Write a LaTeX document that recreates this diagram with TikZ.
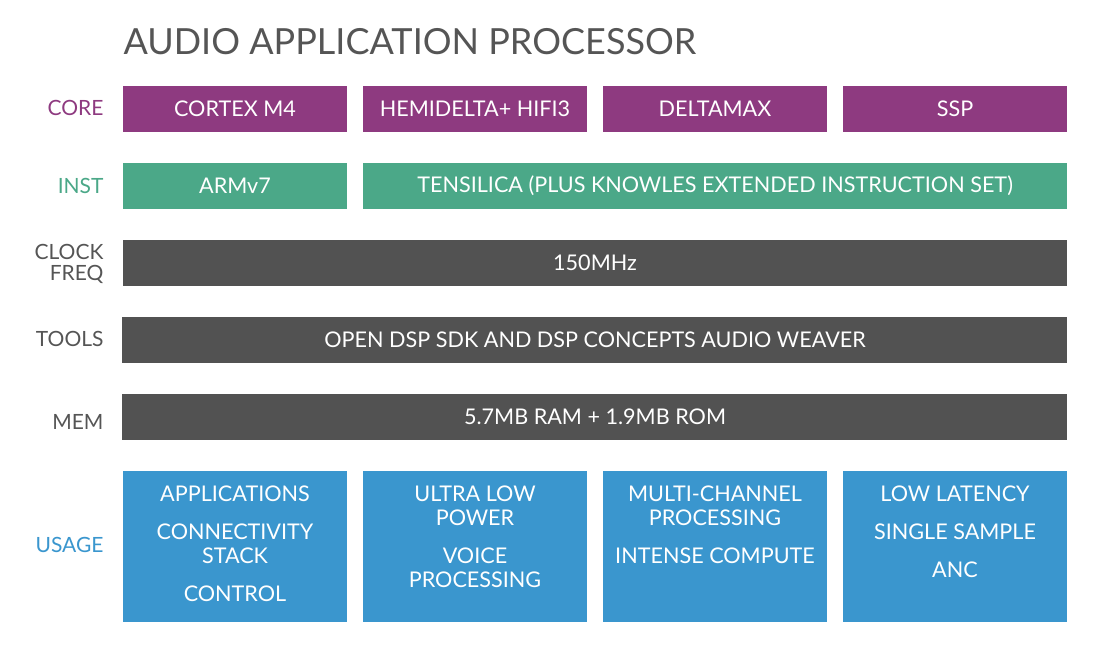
\documentclass[tikz,border=0pt]{standalone}
\usepackage{fontspec}
\setmainfont{Lato}
\definecolor{pur}{HTML}{8E3A80}
\definecolor{grn}{HTML}{4BA888}
\definecolor{dgr}{HTML}{525252}
\definecolor{blu}{HTML}{3A96CE}
\definecolor{lab}{HTML}{555555}
\begin{document}
\begin{tikzpicture}[x=1pt,y=-1pt,
  txt/.style={font=\fontsize{21.6}{24}\selectfont,text=white,align=center},
  lbl/.style={font=\fontsize{21}{20}\selectfont,anchor=east,align=right}]
\useasboundingbox (0,0) rectangle (1098,650);
\node[anchor=west,font=\fontsize{36}{36}\selectfont,text=lab] (title) at (120,42) {AUDIO APPLICATION PROCESSOR};
% labels
\node[lbl,text=pur] (lcore) at (107,108) {CORE};
\node[lbl,text=grn] (linst) at (107,186) {INST};
\node[lbl,text=lab,font=\fontsize{21}{21}\selectfont] (lclk) at (107,264) {CLOCK\\FREQ};
\node[lbl,text=lab] (ltools) at (107,339) {TOOLS};
\node[lbl,text=lab] (lmem) at (107,422) {MEM};
\node[lbl,text=blu] (luse) at (107,545) {USAGE};
% core
\foreach \x/\t/\n in {123/CORTEX M4/c1,363/HEMIDELTA+ HIFI3/c2,603/DELTAMAX/c3,843/SSP/c4}{
  \fill[pur] (\x,86) rectangle ++(224,46);
  \node[txt] (\n) at (\x+112,109) {\t};
}
\fill[grn] (123,163) rectangle (347,209);
\node[txt] (i1) at (235,186) {ARMv7};
\fill[grn] (363,163) rectangle (1067,209);
\node[txt] (i2) at (715,186) {TENSILICA (PLUS KNOWLES EXTENDED INSTRUCTION SET)};
\fill[dgr] (123,240) rectangle (1067,286);
\node[txt] (clk) at (595,263) {150MHz};
\fill[dgr] (122,317) rectangle (1067,363);
\node[txt] (tools) at (595,340) {OPEN DSP SDK AND DSP CONCEPTS AUDIO WEAVER};
\fill[dgr] (122,394) rectangle (1067,440);
\node[txt] (mem) at (595,417) {5.7MB RAM + 1.9MB ROM};
% usage
\foreach \x in {123,363,603,843}{\fill[blu] (\x,471) rectangle ++(224,151);}
\node[txt,anchor=north] (u1) at (235,482) {APPLICATIONS\\[14pt]CONNECTIVITY\\STACK\\[14pt]CONTROL};
\node[txt,anchor=north] (u2) at (475,482) {ULTRA LOW\\POWER\\[14pt]VOICE\\PROCESSING};
\node[txt,anchor=north] (u3) at (715,482) {MULTI-CHANNEL\\PROCESSING\\[14pt]INTENSE COMPUTE};
\node[txt,anchor=north] (u4) at (955,482) {LOW LATENCY\\[14pt]SINGLE SAMPLE\\[14pt]ANC};
\end{tikzpicture}
\end{document}
